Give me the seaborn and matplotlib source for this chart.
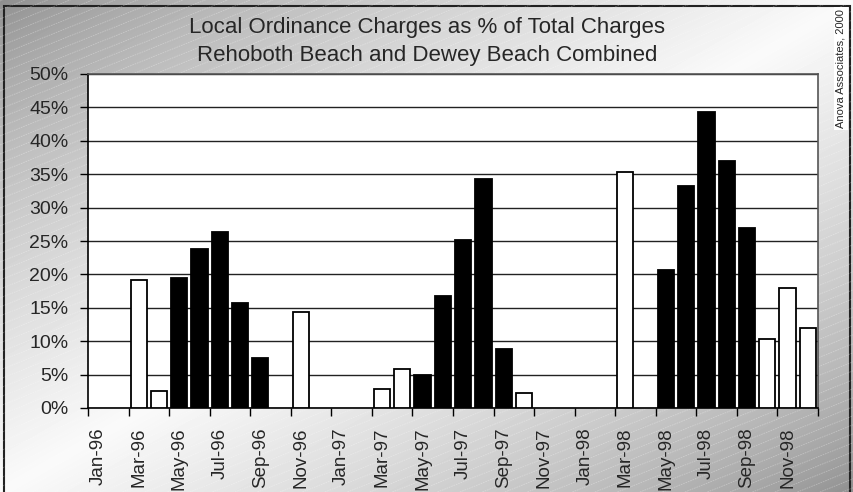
import numpy as np
import pandas as pd
import matplotlib
matplotlib.use('Agg')
import matplotlib.pyplot as plt
import seaborn as sns

# monthly share of local ordinance charges (%), None = no bar
months = ['Jan-96', 'Feb-96', 'Mar-96', 'Apr-96', 'May-96', 'Jun-96',
          'Jul-96', 'Aug-96', 'Sep-96', 'Oct-96', 'Nov-96', 'Dec-96',
          'Jan-97', 'Feb-97', 'Mar-97', 'Apr-97', 'May-97', 'Jun-97',
          'Jul-97', 'Aug-97', 'Sep-97', 'Oct-97', 'Nov-97', 'Dec-97',
          'Jan-98', 'Feb-98', 'Mar-98', 'Apr-98', 'May-98', 'Jun-98',
          'Jul-98', 'Aug-98', 'Sep-98', 'Oct-98', 'Nov-98', 'Dec-98']
pct = [None, None, 19.1, 2.6, 19.4, 23.8, 26.4, 15.7, 7.5, None, 14.3, None,
       None, None, 2.8, 5.9, 4.9, 16.7, 25.1, 34.3, 8.9, 2.2, None, None,
       None, None, 35.3, None, 20.7, 33.3, 44.3, 37.0, 27.0, 10.4, 18.0, 12.0]
peak_months = ['May', 'Jun', 'Jul', 'Aug', 'Sep']
season_colors = {'off': 'white', 'peak': 'black'}

W, H = 854, 492

sns.set_style('white')
plt.rcParams['font.family'] = ['Liberation Sans', 'DejaVu Sans']

df = pd.DataFrame({'month': months, 'pct': pct})
df['season'] = ['peak' if m[:3] in peak_months else 'off' for m in months]
df = df.dropna(subset=['pct'])

fig = plt.figure(figsize=(W / 100, H / 100), dpi=100)

# background: diagonal gray gradient with faint hatch lines
bg = fig.add_axes([0, 0, 1, 1], zorder=-5)
rows, cols = np.mgrid[0:H, 0:W]
t = (cols / W + rows / H) / 2
shade = 0.55 + 0.43 * (1 - np.abs(2 * t - 1)) ** 0.7
bg.imshow(shade, cmap='gray', vmin=0, vmax=1, extent=[0, W, 0, H],
          origin='upper', aspect='auto')
xs = np.array([0, W])
for c in range(-400, H + 10, 9):
    bg.plot(xs, 0.4 * xs + c, color='white', lw=0.6, alpha=0.3, ls=(0, (2, 1)))
bg.add_patch(plt.Rectangle((4, -5), 846, 491, fill=False, edgecolor='#222', lw=1.5))
bg.set_xlim(0, W)
bg.set_ylim(0, H)
bg.axis('off')

ax = fig.add_axes([88 / W, 1 - 408 / H, 730 / W, 334 / H])
ax.set_facecolor('white')
sns.barplot(data=df, x='month', y='pct', hue='season', order=months,
            palette=season_colors, dodge=False, width=0.8,
            edgecolor='black', linewidth=1.3, legend=False, ax=ax, zorder=3)

ax.set_xlim(-0.5, 35.5)
ax.set_ylim(0, 50)
ax.set_yticks(range(0, 51, 5))
ax.set_yticklabels([f'{v}%' for v in range(0, 51, 5)], fontsize=14)
ax.yaxis.grid(True, color='#222', lw=1, zorder=0)
ax.set_axisbelow(True)

ax.set_xticks(range(0, 36, 2))
ax.set_xticklabels(months[::2], rotation=90, fontsize=13.5)
ax.set_xticks(np.arange(-0.5, 36, 2), minor=True)
ax.tick_params(axis='x', which='major', length=0, pad=14)
ax.tick_params(axis='x', which='minor', length=6, width=1, color='black',
               direction='out', bottom=True)
ax.tick_params(axis='y', length=6, width=1, color='black', direction='out',
               left=True, pad=8)
ax.set_xlabel('')
ax.set_ylabel('')

for side in ['left', 'bottom']:
    ax.spines[side].set_color('black')
    ax.spines[side].set_linewidth(1.2)
for side in ['top', 'right']:
    ax.spines[side].set_color('#555')
    ax.spines[side].set_linewidth(1.2)

fig.text(0.5, 1 - 27 / H, 'Local Ordinance Charges as % of Total Charges',
         ha='center', va='center', fontsize=16)
fig.text(0.5, 1 - 56 / H, 'Rehoboth Beach and Dewey Beach Combined',
         ha='center', va='center', fontsize=16)
fig.text(841 / W, 1 - 9 / H, 'Anova Associates, 2000', rotation=90,
         ha='center', va='top', fontsize=8,
         bbox=dict(facecolor='white', edgecolor='none', pad=1.5))

fig.savefig('out.png', dpi=100)
